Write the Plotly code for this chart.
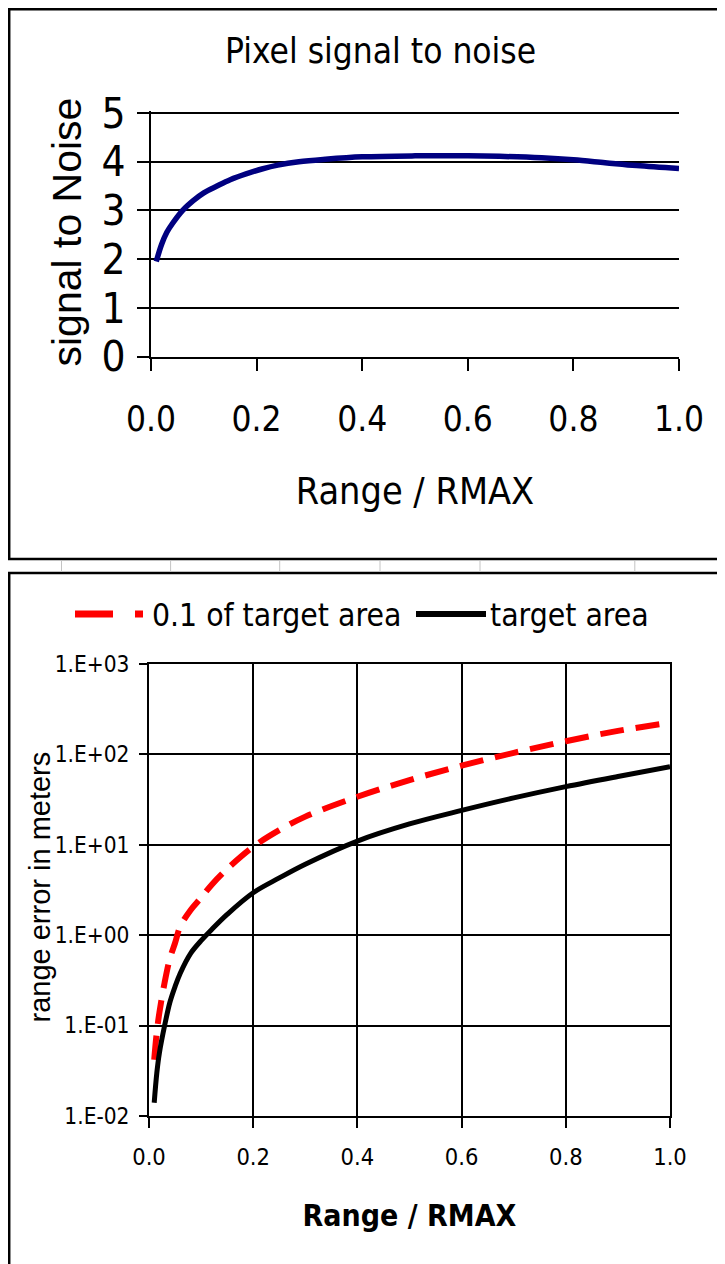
import plotly.graph_objects as go

# ---------------- data ----------------
snr_x = [0.01, 0.02, 0.03, 0.04, 0.06, 0.08, 0.10, 0.125, 0.15, 0.18, 0.21, 0.24,
         0.28, 0.33, 0.40, 0.50, 0.60, 0.66, 0.74, 0.80, 0.86, 0.92, 1.00]
snr_y = [1.95, 2.30, 2.55, 2.72, 3.00, 3.20, 3.36, 3.50, 3.63, 3.75, 3.85, 3.93,
         4.00, 4.05, 4.10, 4.12, 4.12, 4.11, 4.08, 4.04, 3.98, 3.92, 3.86]

err_x = [0.01, 0.015, 0.02, 0.03, 0.04, 0.05, 0.06, 0.08, 0.10, 0.12, 0.15, 0.20,
         0.25, 0.30, 0.40, 0.50, 0.60, 0.70, 0.80, 0.90, 1.00]
err_target = [0.014, 0.03, 0.05, 0.10, 0.18, 0.27, 0.38, 0.63, 0.87, 1.15, 1.7, 2.95,
              4.3, 6.1, 11, 17, 24, 33, 44, 57, 73]
err_tenth = [0.042, 0.085, 0.14, 0.30, 0.55, 0.82, 1.25, 1.9, 2.6, 3.6, 5.4, 9.5,
             14.5, 20.5, 34, 52, 75, 104, 140, 182, 224]

x_ticks = [0.0, 0.2, 0.4, 0.6, 0.8, 1.0]
x_ticktext = ["0.0", "0.2", "0.4", "0.6", "0.8", "1.0"]
snr_ticks = [0, 1, 2, 3, 4, 5]
err_ticks = [0.01, 0.1, 1, 10, 100, 1000]
err_ticktext = ["1.E-02", "1.E-01", "1.E+00", "1.E+01", "1.E+02", "1.E+03"]

title_top = "Pixel signal to noise"
xtitle = "Range / RMAX"
ytitle_top = "signal to Noise"
ytitle_bot = "range error in meters"
name_tenth = "0.1 of target area"
name_target = "target area"

# ---------------- layout helpers ----------------
# the page adds an 8px body margin, so the figure starts at (8, 8) of the window
OFF = 8
W, H = 725 - OFF, 1264 - OFF
NARROW = "DejaVu Sans Condensed, Liberation Sans, Arial, sans-serif"
REG = "Liberation Sans, Arial, sans-serif"


def px(x):
    return (x - OFF) / W


def py(y):
    return 1 - (y - OFF) / H


fig = go.Figure()

fig.add_trace(go.Scatter(x=snr_x, y=snr_y, mode="lines", line=dict(color="#000080", width=5.5),
                         showlegend=False, xaxis="x", yaxis="y", line_shape="spline"))
fig.add_trace(go.Scatter(x=err_x, y=err_tenth, mode="lines", name=name_tenth,
                         line=dict(color="#ff0000", width=6, dash="24px,12px"),
                         showlegend=False, xaxis="x2", yaxis="y2", line_shape="spline"))
fig.add_trace(go.Scatter(x=err_x, y=err_target, mode="lines", name=name_target,
                         line=dict(color="#000000", width=5),
                         showlegend=False, xaxis="x2", yaxis="y2", line_shape="spline"))

axcommon = dict(showline=True, linecolor="black", linewidth=2, ticks="outside",
                tickcolor="black", tickwidth=2, zeroline=False, automargin=False)

# top y: 0 at 356.5px, 5 at 113px; extend range a little so grid at 5 is drawn
Y0, Y5 = 356.5, 113.0
ytop_max = 5.04
ytop_top_px = Y0 - (Y0 - Y5) * ytop_max / 5

fig.update_layout(
    width=W, height=H, margin=dict(l=0, r=0, t=0, b=0, autoexpand=False),
    paper_bgcolor="white", plot_bgcolor="white", showlegend=False,
    xaxis=dict(domain=[px(151), px(679)], range=[0, 1], tickvals=x_ticks, ticktext=x_ticktext,
               showgrid=False, ticklen=12, ticklabelstandoff=18,
               tickfont=dict(family=NARROW, size=35, color="black"),
               title=dict(text=xtitle, font=dict(family=NARROW, size=37.5, color="black"), standoff=40),
               anchor="y", **axcommon),
    yaxis=dict(domain=[py(Y0), py(ytop_top_px)], range=[0, ytop_max], tickvals=snr_ticks,
               showgrid=True, gridcolor="black", gridwidth=2, ticklen=12, ticklabelstandoff=3,
               tickfont=dict(family=NARROW, size=42, color="black"),
               anchor="x", **axcommon),
    xaxis2=dict(domain=[px(149), px(670)], range=[0, 1], tickvals=x_ticks, ticktext=x_ticktext,
                showgrid=True, gridcolor="black", gridwidth=2, ticklen=10, ticklabelstandoff=9,
                mirror=True,
                tickfont=dict(family=NARROW, size=23.5, color="black"),
                title=dict(text="<b>" + xtitle + "</b>", font=dict(family=NARROW, size=30, color="black"),
                           standoff=35),
                anchor="y2", **axcommon),
    yaxis2=dict(domain=[py(1116), py(664)], type="log", range=[-2, 3], tickvals=err_ticks,
                ticktext=err_ticktext, showgrid=True, gridcolor="black", gridwidth=2,
                ticklen=8, ticklabelstandoff=5, mirror=True,
                tickfont=dict(family=NARROW, size=22.5, color="black"),
                anchor="x2", **axcommon),
)

shapes = []
# chart boxes
shapes.append(dict(type="rect", xref="paper", yref="paper", x0=px(9.2), x1=px(760), y0=py(559), y1=py(9.2),
                   line=dict(color="black", width=2.5), layer="below"))
shapes.append(dict(type="rect", xref="paper", yref="paper", x0=px(9.2), x1=px(760), y0=py(1300), y1=py(573),
                   line=dict(color="black", width=2.5), layer="below"))
# spreadsheet cell lines between the two charts
for gx in [61.5, 170.6, 279.7, 380, 480, 634.8]:
    shapes.append(dict(type="line", xref="paper", yref="paper", x0=px(gx), x1=px(gx), y0=py(572), y1=py(561),
                       line=dict(color="#c4c4c4", width=1)))
# legend samples
shapes.append(dict(type="line", xref="paper", yref="paper", x0=px(75), x1=px(143), y0=py(614), y1=py(614),
                   line=dict(color="#ff0000", width=7, dash="38px,22px")))
shapes.append(dict(type="line", xref="paper", yref="paper", x0=px(416), x1=px(486), y0=py(614), y1=py(614),
                   line=dict(color="black", width=6)))

annotations = [
    dict(text=title_top, xref="paper", yref="paper", x=px(380), y=py(51), showarrow=False,
         xanchor="center", yanchor="middle", font=dict(family=NARROW, size=35, color="black")),
    dict(text=ytitle_top, xref="paper", yref="paper", x=px(66), y=py(232.5), showarrow=False,
         textangle=-90, xanchor="center", yanchor="middle",
         font=dict(family=REG, size=41, color="black")),
    dict(text=ytitle_bot, xref="paper", yref="paper", x=px(39), y=py(887.5), showarrow=False,
         textangle=-90, xanchor="center", yanchor="middle",
         font=dict(family=REG, size=29, color="black")),
    dict(text=name_tenth, xref="paper", yref="paper", x=px(150), y=py(615), showarrow=False,
         xanchor="left", yanchor="middle", font=dict(family=NARROW, size=31.6, color="black")),
    dict(text=name_target, xref="paper", yref="paper", x=px(488), y=py(615), showarrow=False,
         xanchor="left", yanchor="middle", font=dict(family=NARROW, size=31.6, color="black")),
]

fig.update_layout(shapes=shapes, annotations=annotations)
fig.write_html("out.html")
